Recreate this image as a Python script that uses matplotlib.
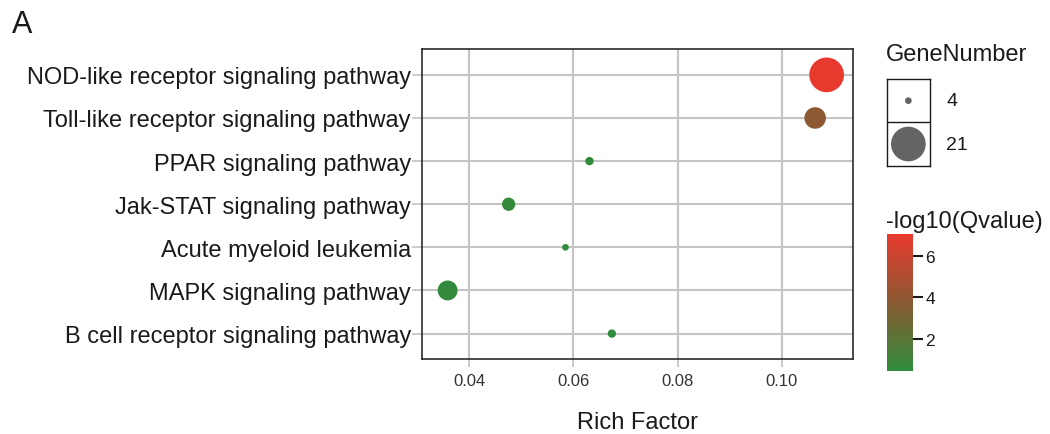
import numpy as np
import matplotlib
matplotlib.use("Agg")
import matplotlib.pyplot as plt
from matplotlib.colors import LinearSegmentedColormap, Normalize
from matplotlib.cm import ScalarMappable

plt.rcParams['font.family'] = ['Liberation Sans', 'DejaVu Sans']

# data (bottom to top, as drawn)
pathways = ['B cell receptor signaling pathway',
            'MAPK signaling pathway',
            'Acute myeloid leukemia',
            'Jak-STAT signaling pathway',
            'PPAR signaling pathway',
            'Toll-like receptor signaling pathway',
            'NOD-like receptor signaling pathway']
rich_factor = [0.0674, 0.0359, 0.0585, 0.0476, 0.0631, 0.1064, 0.1086]
gene_number = [5, 12, 4, 8, 5, 13, 21]
neg_log_q = [0.48, 0.62, 0.55, 0.70, 0.58, 3.9, 7.04]
size_breaks = [4, 21]
xticks = [0.04, 0.06, 0.08, 0.10]
cbar_ticks = [2, 4, 6]


def msize(g):
    # point diameter in pixels, linear in gene number
    d = 6.7 + 1.647 * (np.asarray(g, dtype=float) - 4)
    return (d * 0.72) ** 2


cmap = LinearSegmentedColormap.from_list('qv', ['#2F8C3C', '#8A5A32', '#E8392F'])
norm = Normalize(vmin=min(neg_log_q), vmax=max(neg_log_q))

fig = plt.figure(figsize=(10.5, 4.35), dpi=100)
ax = fig.add_axes([422 / 1050, 75 / 435, 430.7 / 1050, 310 / 435])

ypos = np.arange(1, len(pathways) + 1)
ax.scatter(rich_factor, ypos, s=msize(gene_number), c=neg_log_q, cmap=cmap,
           norm=norm, edgecolors='none', zorder=3)

ax.set_xlim(0.03098, 0.1136)
ax.set_ylim(0.41, 7.6)
ax.set_xticks(xticks)
ax.set_xticklabels(['%.2f' % t for t in xticks])
ax.set_yticks(ypos)
ax.set_yticklabels(pathways)
ax.grid(True, color='#C4C4C4', linewidth=1.5)
ax.set_axisbelow(True)
for sp in ax.spines.values():
    sp.set_color('#1a1a1a')
    sp.set_linewidth(1.1)
ax.tick_params(axis='y', labelsize=17, labelcolor='#1a1a1a', color='#C4C4C4',
               length=7, width=1.2, pad=1)
ax.tick_params(axis='x', labelsize=12, labelcolor='#333333', color='#C4C4C4',
               length=6, width=1.2, pad=4)
ax.set_xlabel('Rich Factor', fontsize=17, color='#1a1a1a', labelpad=17)

fig.text(12 / 1050, 1 - 25 / 435, 'A', fontsize=22, color='#1a1a1a', va='center', ha='left')

# size legend
fig.text(886 / 1050, 1 - 55 / 435, 'GeneNumber', fontsize=17, color='#1a1a1a', va='center', ha='left')
lax = fig.add_axes([886.7 / 1050, (435 - 166.7) / 435, 43.3 / 1050, 86.7 / 435])
lax.set_xlim(0, 1)
lax.set_ylim(0, 2)
lax.scatter([0.5, 0.5], [1.5, 0.5], s=msize(size_breaks), c='#646464', edgecolors='none')
lax.axhline(1, color='#1a1a1a', linewidth=1)
lax.set_xticks([])
lax.set_yticks([])
for sp in lax.spines.values():
    sp.set_color('#1a1a1a')
    sp.set_linewidth(1)
for yv, lab in zip([1.5, 0.5], size_breaks):
    lax.text(1.38, yv, str(lab), fontsize=14, color='#1a1a1a', va='center', ha='left',
             transform=lax.transData, clip_on=False)

# colour bar
fig.text(886 / 1050, 1 - 221.7 / 435, '-log10(Qvalue)', fontsize=17, color='#1a1a1a',
         va='center', ha='left')
cax = fig.add_axes([887 / 1050, 63 / 435, 26 / 1050, 137 / 435])
cb = fig.colorbar(ScalarMappable(norm=norm, cmap=cmap), cax=cax, ticks=cbar_ticks)
cb.outline.set_visible(False)
cax.tick_params(labelsize=12.5, labelcolor='#1a1a1a', length=7, width=1.5, color='#1a1a1a', pad=2)

fig.savefig('out.png', dpi=100)
